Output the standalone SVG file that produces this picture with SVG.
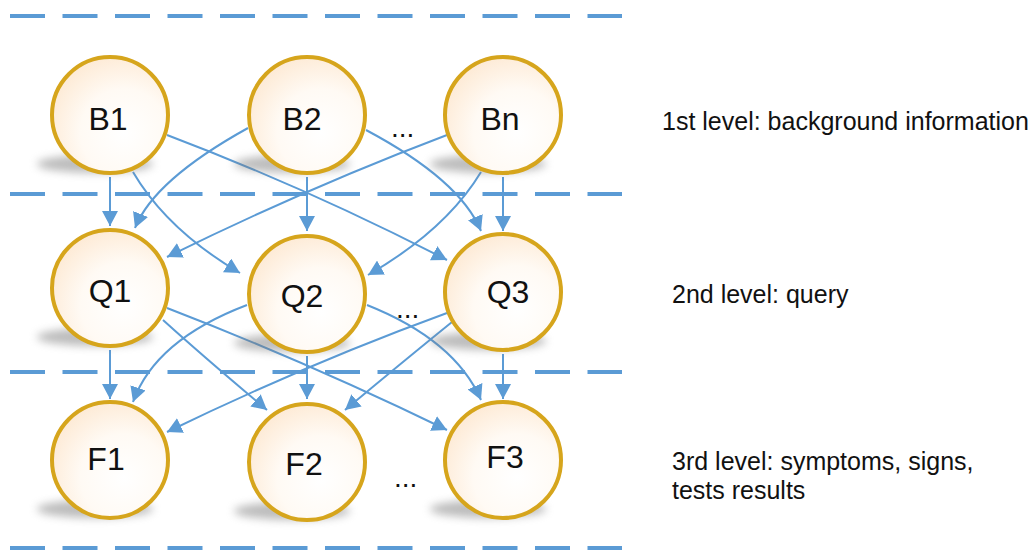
<svg xmlns="http://www.w3.org/2000/svg" width="1036" height="550" viewBox="0 0 1036 550">
  <defs>
    <radialGradient id="nodeFill" cx="0.62" cy="0.65" r="0.75">
      <stop offset="0" stop-color="#ffffff"/>
      <stop offset="0.5" stop-color="#fffaf4"/>
      <stop offset="1" stop-color="#fde7cf"/>
    </radialGradient>
    <filter id="soft" x="-30%" y="-100%" width="160%" height="300%">
      <feGaussianBlur stdDeviation="4"/>
    </filter>
    <marker id="arrow" markerUnits="userSpaceOnUse" viewBox="0 0 16 16" markerWidth="16" markerHeight="16" refX="15" refY="8" orient="auto">
      <path d="M0,0 L15,8 L0,16 Z" fill="#5b9bd5"/>
    </marker>
  </defs>
  <style>
    .level { stroke: #5b9bd5; stroke-width: 4; stroke-dasharray: 35 17.5; fill: none; }
    .edge { stroke: #5b9bd5; stroke-width: 2; fill: none; marker-end: url(#arrow); }
    .shadow { fill: #7a7a7a; opacity: 0.5; filter: url(#soft); }
    .disc { fill: url(#nodeFill); stroke: #d6a51c; stroke-width: 4; }
    .label { font-family: "Liberation Sans", Arial, sans-serif; font-size: 32px; fill: #111; text-anchor: middle; }
    .dots { font-family: "Liberation Sans", Arial, sans-serif; font-size: 28px; fill: #111; }
    .note { font-family: "Liberation Sans", Arial, sans-serif; font-size: 25px; fill: #111; }
  </style>

  <rect width="1036" height="550" fill="#ffffff"/>

  <!-- level separators -->
  <g id="separators">
    <line class="level" x1="10" y1="16" x2="622" y2="16"/>
    <line class="level" x1="10" y1="194" x2="622" y2="194"/>
    <line class="level" x1="10" y1="372" x2="622" y2="372"/>
    <line class="level" x1="10" y1="548" x2="622" y2="548"/>
  </g>

  <!-- dependencies between levels -->
  <g id="connectors">
    <!-- background -> query -->
    <path class="edge" d="M110,177 L110,226"/>
    <path class="edge" d="M133,172 Q167,230 240,273"/>
    <path class="edge" d="M167,135 Q307,188 447,260"/>
    <path class="edge" d="M248,128 Q154,180 135,228"/>
    <path class="edge" d="M307,177 L307,231"/>
    <path class="edge" d="M366,130 Q460,180 481,231"/>
    <path class="edge" d="M447,135 Q307,188 167,257"/>
    <path class="edge" d="M481,172 Q446,230 368,275"/>
    <path class="edge" d="M503,177 L503,231"/>
    <!-- query -> findings -->
    <path class="edge" d="M110,350 L110,399"/>
    <path class="edge" d="M163,320 Q205,358 267,410"/>
    <path class="edge" d="M167,308 Q307,362 447,430"/>
    <path class="edge" d="M247,305 Q155,340 133,402"/>
    <path class="edge" d="M307,356 L307,399"/>
    <path class="edge" d="M367,305 Q455,340 481,400"/>
    <path class="edge" d="M447,313 Q307,364 167,432"/>
    <path class="edge" d="M452,322 Q405,360 345,410"/>
    <path class="edge" d="M503,354 L503,399"/>
  </g>

  <!-- 1st level: background information -->
  <g id="B1">
    <ellipse class="shadow" cx="95" cy="164" rx="58" ry="9"/>
    <circle class="disc" cx="110" cy="115" r="58"/>
    <text class="label" x="108" y="130">B1</text>
  </g>
  <g id="B2">
    <ellipse class="shadow" cx="292" cy="164" rx="58" ry="9"/>
    <circle class="disc" cx="307" cy="115" r="58"/>
    <text class="label" x="302" y="130">B2</text>
  </g>
  <g id="Bn">
    <ellipse class="shadow" cx="488" cy="164" rx="58" ry="9"/>
    <circle class="disc" cx="503" cy="115" r="58"/>
    <text class="label" x="500" y="130">Bn</text>
  </g>
  <text class="dots" x="391" y="137">...</text>

  <!-- 2nd level: query -->
  <g id="Q1">
    <ellipse class="shadow" cx="95" cy="337" rx="58" ry="9"/>
    <circle class="disc" cx="110" cy="288" r="58"/>
    <text class="label" x="110" y="302">Q1</text>
  </g>
  <g id="Q2">
    <ellipse class="shadow" cx="292" cy="343" rx="58" ry="9"/>
    <circle class="disc" cx="307" cy="294" r="58"/>
    <text class="label" x="302" y="307">Q2</text>
  </g>
  <g id="Q3">
    <ellipse class="shadow" cx="488" cy="341" rx="58" ry="9"/>
    <circle class="disc" cx="503" cy="292" r="58"/>
    <text class="label" x="508" y="303">Q3</text>
  </g>
  <text class="dots" x="396" y="318">...</text>

  <!-- 3rd level: findings -->
  <g id="F1">
    <ellipse class="shadow" cx="95" cy="509" rx="58" ry="9"/>
    <circle class="disc" cx="110" cy="460" r="58"/>
    <text class="label" x="106" y="470">F1</text>
  </g>
  <g id="F2">
    <ellipse class="shadow" cx="292" cy="511" rx="58" ry="9"/>
    <circle class="disc" cx="307" cy="462" r="58"/>
    <text class="label" x="304" y="475">F2</text>
  </g>
  <g id="F3">
    <ellipse class="shadow" cx="488" cy="509" rx="58" ry="9"/>
    <circle class="disc" cx="503" cy="460" r="58"/>
    <text class="label" x="505" y="468">F3</text>
  </g>
  <text class="dots" x="394" y="487">...</text>

  <!-- level descriptions -->
  <g id="legend">
    <text class="note" x="662" y="130">1st level: background information</text>
    <text class="note" x="672" y="303">2nd level: query</text>
    <text class="note" x="672" y="470">3rd level: symptoms, signs,</text>
    <text class="note" x="672" y="499">tests results</text>
  </g>
</svg>
